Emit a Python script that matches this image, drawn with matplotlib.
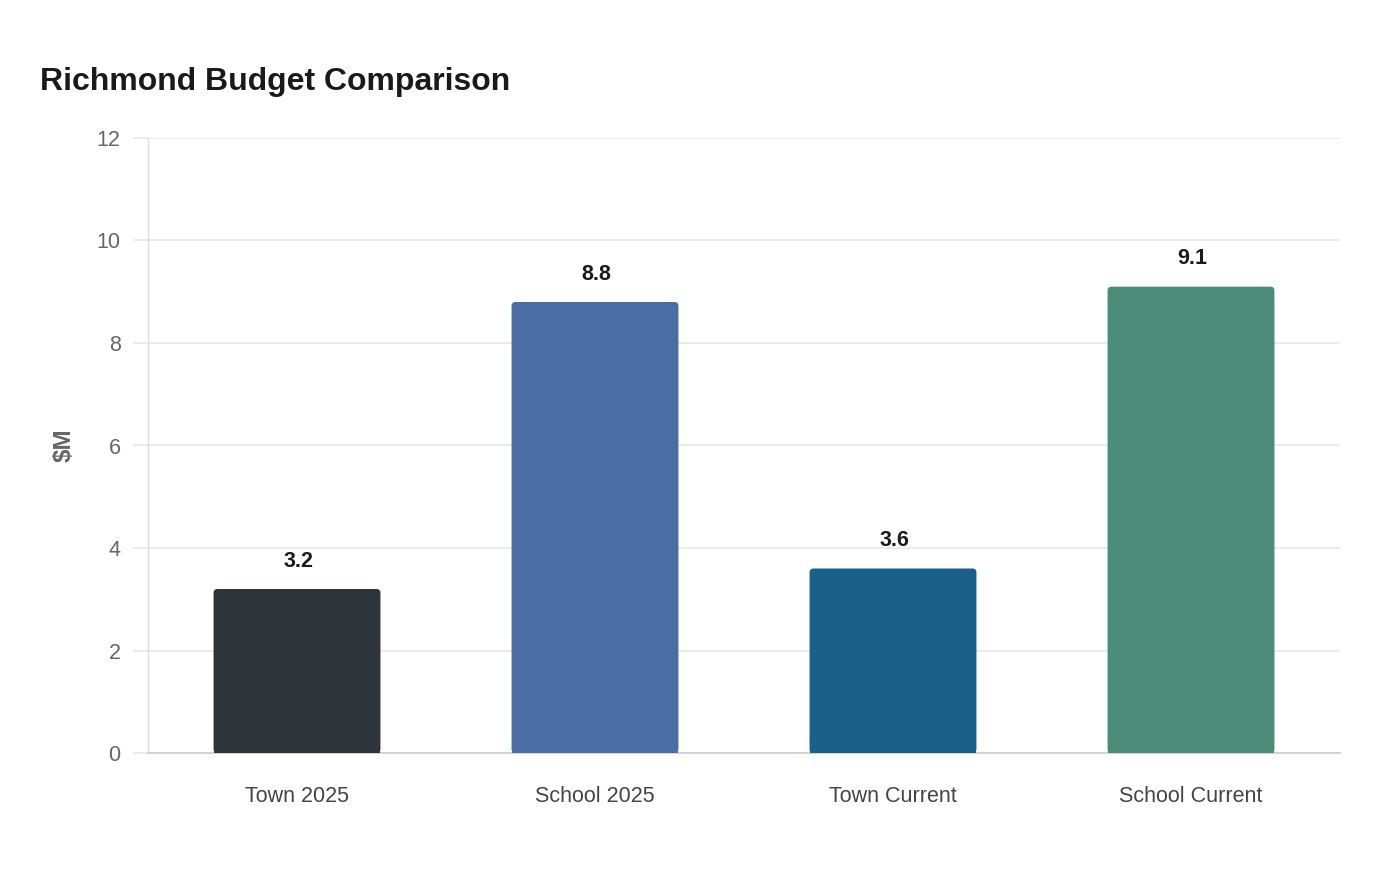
import matplotlib
matplotlib.use("Agg")
import matplotlib.pyplot as plt
from matplotlib.patches import FancyBboxPatch, Rectangle

categories = ["Town 2025", "School 2025", "Town Current", "School Current"]
values = [3.2, 8.8, 3.6, 9.1]
colors = ["#2d3538", "#4a6ea4", "#1a6088", "#4e8c7a"]
yticks = [0, 2, 4, 6, 8, 10, 12]

plt.rcParams['font.family'] = ['Liberation Sans', 'DejaVu Sans']

fig = plt.figure(figsize=(14, 8.8), dpi=100)
ax = fig.add_axes([148/1400, 1 - 753/880, (1340-148)/1400, (753-138)/880])

ax.set_xlim(-0.5, len(categories) - 0.5)
ax.set_ylim(0, 12)

bw = 0.56
px_x = (1340-148) / len(categories)
px_y = (753-138) / 12.0
r = 4 / px_x
aspect = px_x / px_y
for i, (v, c) in enumerate(zip(values, colors)):
    p = FancyBboxPatch((i - bw/2, 0), bw, v,
                       boxstyle=f"round,pad=0,rounding_size={r}",
                       mutation_aspect=aspect, facecolor=c, edgecolor="none", zorder=3)
    ax.add_patch(p)
    ax.add_patch(Rectangle((i - bw/2, 0), bw, v - 0.3, facecolor=c, edgecolor="none", zorder=3))
    ax.text(i + 0.005, v + 0.34, f"{v:.1f}", ha="center", va="bottom", fontsize=15.5,
            fontweight="bold", color="#1a1a1a", zorder=4)

ax.set_xticks(range(len(categories)))
ax.set_xticklabels(categories, fontsize=15.5, color="#444444")
ax.set_yticks(yticks)
ax.set_yticklabels([str(t) for t in yticks], fontsize=15.5, color="#666666")
ax.tick_params(axis="x", length=0, pad=24)
ax.tick_params(axis="y", length=10.8, color="#e8e8e8", pad=9, width=1.2)

ax.grid(axis="y", color="#e8e8e8", linewidth=1.2, zorder=0)
ax.set_axisbelow(True)
for s in ["top", "right"]:
    ax.spines[s].set_visible(False)
ax.spines["left"].set_color("#dddddd")
ax.spines["left"].set_linewidth(1.0)
ax.spines["bottom"].set_color("#cccccc")
ax.spines["bottom"].set_linewidth(1.2)

ax.set_ylabel("$M", fontsize=17.5, fontweight="bold", color="#666666")
ax.yaxis.set_label_coords(-72/1192, 0.5)

fig.text(40/1400, 1 - 82/880, "Richmond Budget Comparison", fontsize=23,
         fontweight="bold", color="#1a1a1a", ha="left", va="center")

fig.savefig("out.png", dpi=100, facecolor="white")
